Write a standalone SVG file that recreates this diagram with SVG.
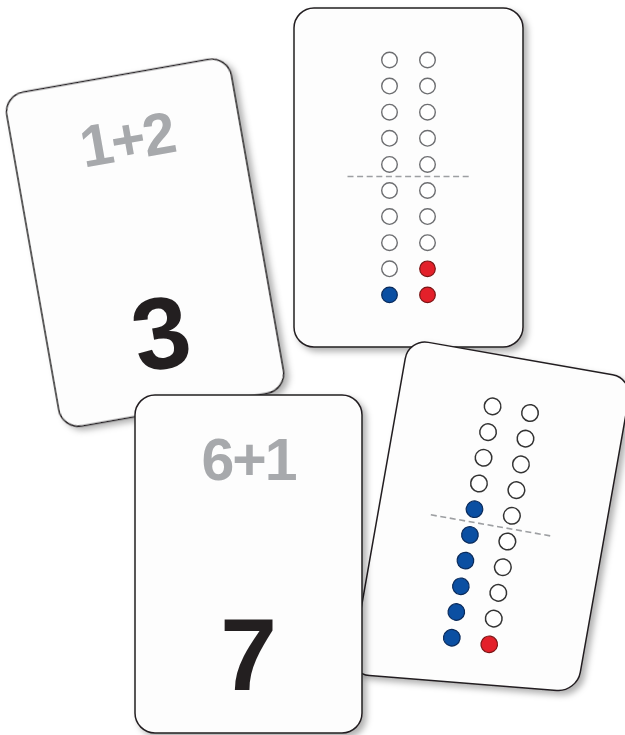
<svg xmlns="http://www.w3.org/2000/svg" width="625" height="735" viewBox="0 0 625 735">
  <defs>
    <filter id="sh" x="-10%" y="-10%" width="125%" height="125%">
      <feDropShadow dx="4" dy="4" stdDeviation="3" flood-color="#000" flood-opacity="0.3"/>
    </filter>
    <style>
      .card { fill: #fdfdfd; stroke: #231f20; stroke-width: 1.5; filter: url(#sh); }
      .sum { font-family: "Liberation Sans", Arial, sans-serif; font-weight: bold; font-size: 59px; letter-spacing: -2px; fill: #a7a9ac; text-anchor: middle; }
      .big { font-family: "Liberation Sans", Arial, sans-serif; font-weight: bold; font-size: 102px; fill: #231f20; text-anchor: middle; }
      .e2 { fill: #ffffff; stroke: #6d6e71; stroke-width: 1.4; }
      .e3 { fill: #ffffff; stroke: #333333; stroke-width: 1.5; }
      .b { fill: #0b4fa2; stroke: #0a2a5a; stroke-width: 1.2; }
      .r { fill: #e3202a; stroke: #7a1515; stroke-width: 1.2; }
      .dash { stroke: #9d9fa2; stroke-width: 1.6; stroke-dasharray: 6 3.6; fill: none; }
    </style>
  </defs>

  <rect width="625" height="735" fill="#ffffff"/>

  <g id="card-sum-1-2" transform="translate(145.1 242.7) rotate(-10)">
    <rect class="card" x="-114" y="-169.5" width="228" height="339" rx="20"/>
    <text class="sum" x="0" y="-84.5">1+2</text>
    <text class="big" x="0" y="127">3</text>
  </g>

  <g id="card-dots-1-2" transform="translate(408.5 177.5)">
    <rect class="card" x="-114.5" y="-169.5" width="229" height="339" rx="20"/>
    <g>
      <circle class="e2" cx="-19" cy="-117.5" r="7.8"/>
      <circle class="e2" cx="-19" cy="-91.4" r="7.8"/>
      <circle class="e2" cx="-19" cy="-65.3" r="7.8"/>
      <circle class="e2" cx="-19" cy="-39.2" r="7.8"/>
      <circle class="e2" cx="-19" cy="-13.1" r="7.8"/>
      <circle class="e2" cx="-19" cy="13" r="7.8"/>
      <circle class="e2" cx="-19" cy="39.1" r="7.8"/>
      <circle class="e2" cx="-19" cy="65.2" r="7.8"/>
      <circle class="e2" cx="-19" cy="91.3" r="7.8"/>
      <circle class="b" cx="-19" cy="117.4" r="7.8"/>
      <circle class="e2" cx="19" cy="-117.5" r="7.8"/>
      <circle class="e2" cx="19" cy="-91.4" r="7.8"/>
      <circle class="e2" cx="19" cy="-65.3" r="7.8"/>
      <circle class="e2" cx="19" cy="-39.2" r="7.8"/>
      <circle class="e2" cx="19" cy="-13.1" r="7.8"/>
      <circle class="e2" cx="19" cy="13" r="7.8"/>
      <circle class="e2" cx="19" cy="39.1" r="7.8"/>
      <circle class="e2" cx="19" cy="65.2" r="7.8"/>
      <circle class="r" cx="19" cy="91.3" r="7.8"/>
      <circle class="r" cx="19" cy="117.4" r="7.8"/>
    </g>
    <line class="dash" x1="-61" y1="-1" x2="61" y2="-1"/>
  </g>

  <g id="card-dots-6-1">
    <path class="card" d="M 428.4 342.37 L 612.6 374.83 C 623.47 376.74 630.74 387.12 628.82 397.99 L 580.28 672.31 C 578.36 683.18 567.87 691.29 556.86 690.42 L 369.54 675.58 C 358.53 674.71 351.16 665.18 353.07 654.3 L 405.23 358.6 C 407.14 347.72 417.53 340.46 428.4 342.37 Z"/>
    <g transform="translate(490.9 525.4) rotate(10)">
      <circle class="e3" cx="-19" cy="-117.5" r="8.3"/>
      <circle class="e3" cx="-19" cy="-91.4" r="8.3"/>
      <circle class="e3" cx="-19" cy="-65.3" r="8.3"/>
      <circle class="e3" cx="-19" cy="-39.2" r="8.3"/>
      <circle class="b" cx="-19" cy="-13.1" r="8.3"/>
      <circle class="b" cx="-19" cy="13" r="8.3"/>
      <circle class="b" cx="-19" cy="39.1" r="8.3"/>
      <circle class="b" cx="-19" cy="65.2" r="8.3"/>
      <circle class="b" cx="-19" cy="91.3" r="8.3"/>
      <circle class="b" cx="-19" cy="117.4" r="8.3"/>
      <circle class="e3" cx="19" cy="-117.5" r="8.3"/>
      <circle class="e3" cx="19" cy="-91.4" r="8.3"/>
      <circle class="e3" cx="19" cy="-65.3" r="8.3"/>
      <circle class="e3" cx="19" cy="-39.2" r="8.3"/>
      <circle class="e3" cx="19" cy="-13.1" r="8.3"/>
      <circle class="e3" cx="19" cy="13" r="8.3"/>
      <circle class="e3" cx="19" cy="39.1" r="8.3"/>
      <circle class="e3" cx="19" cy="65.2" r="8.3"/>
      <circle class="e3" cx="19" cy="91.3" r="8.3"/>
      <circle class="r" cx="19" cy="117.4" r="8.3"/>
      <line class="dash" x1="-61" y1="0" x2="61" y2="0"/>
    </g>
  </g>

  <g id="card-sum-6-1" transform="translate(248.5 564)">
    <rect class="card" x="-113.5" y="-169" width="227" height="338" rx="20"/>
    <text class="sum" x="0" y="-84">6+1</text>
    <text class="big" x="0" y="126">7</text>
  </g>
</svg>
